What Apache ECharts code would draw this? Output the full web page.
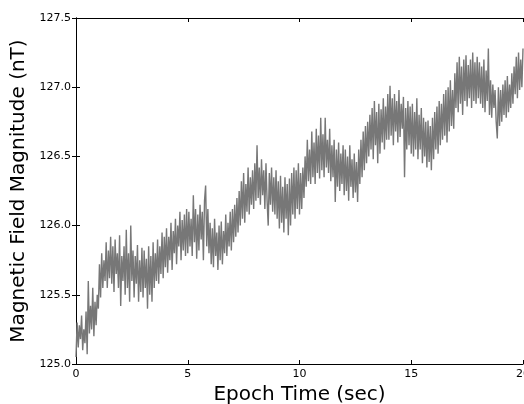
<!DOCTYPE html>
<html>
<head>
<meta charset="utf-8">
<script src="https://cdn.jsdelivr.net/npm/echarts@6/dist/echarts.min.js"></script>
<style>
html,body{margin:0;padding:0;background:#fff;}
#chart{width:524px;height:404px;}
</style>
</head>
<body>
<div id="chart"></div>
<script>
// Sampling interval of the magnetometer trace (seconds)
const timeStepSec = 0.05;
// Magnetic field magnitude (nT), one row per second
const field_0_1 = [125.05,125.30,125.12,125.28,125.18,125.35,125.10,125.25,125.15,125.38,125.07,125.60,125.22,125.42,125.25,125.55,125.20,125.45,125.28,125.50];
const field_1_2 = [125.40,125.72,125.48,125.80,125.55,125.75,125.60,125.88,125.55,125.82,125.62,125.92,125.58,125.85,125.52,125.90,125.65,125.80,125.55,125.93];
const field_2_3 = [125.42,125.78,125.60,125.85,125.50,125.97,125.55,125.80,125.45,126.00,125.60,125.82,125.48,125.78,125.58,125.86,125.45,125.75,125.52,125.84];
const field_3_4 = [125.48,125.82,125.55,125.76,125.40,125.85,125.50,125.78,125.45,125.88,125.55,125.80,125.60,125.90,125.58,125.85,125.65,125.95,125.62,125.92];
const field_4_5 = [125.70,125.98,125.66,125.92,125.75,126.02,125.68,125.96,125.80,126.05,125.72,126.00,125.85,126.10,125.75,126.04,125.82,126.08,125.78,126.12];
const field_5_6 = [125.80,126.10,125.85,126.05,125.78,126.22,125.88,126.12,125.76,126.08,125.82,126.15,125.90,126.10,125.75,126.18,126.29,125.85,126.12,125.80];
const field_6_7 = [126.02,125.72,125.98,125.70,126.05,125.78,125.95,125.68,126.00,125.75,126.03,125.72,125.96,125.80,126.08,125.78,126.02,125.85,126.10,125.82];
const field_7_8 = [126.12,125.88,126.15,125.92,126.20,125.95,126.25,126.00,126.32,126.05,126.38,126.02,126.30,126.10,126.42,126.08,126.35,126.15,126.40,126.12];
const field_8_9 = [126.45,126.18,126.58,126.20,126.42,126.15,126.48,126.22,126.40,126.12,126.45,126.18,126.00,126.38,126.15,126.42,126.10,126.35,126.08,126.40];
const field_9_10 = [126.05,126.32,125.98,126.36,126.02,126.28,125.95,126.35,126.05,126.30,125.93,126.34,126.00,126.38,126.08,126.42,126.05,126.40,126.12,126.45];
const field_10_11 = [126.08,126.38,126.12,126.42,126.20,126.50,126.28,126.62,126.32,126.55,126.30,126.68,126.35,126.60,126.30,126.70,126.38,126.65,126.34,126.78];
const field_11_12 = [126.40,126.66,126.35,126.78,126.42,126.62,126.38,126.70,126.32,126.58,126.35,126.62,126.17,126.55,126.28,126.60,126.25,126.52,126.30,126.58];
const field_12_13 = [126.22,126.55,126.25,126.50,126.18,126.58,126.28,126.48,126.20,126.52,126.24,126.46,126.17,126.55,126.30,126.62,126.35,126.68,126.40,126.72];
const field_13_14 = [126.45,126.75,126.50,126.80,126.55,126.85,126.48,126.90,126.58,126.82,126.45,126.88,126.52,126.84,126.60,126.92,126.55,126.86,126.62,126.95];
const field_14_15 = [126.62,127.01,126.65,126.92,126.58,126.95,126.68,126.90,126.60,126.98,126.64,126.88,126.70,126.93,126.35,126.85,126.55,126.90,126.58,126.86];
const field_15_16 = [126.52,126.88,126.50,126.82,126.55,126.92,126.48,126.80,126.55,126.85,126.45,126.78,126.50,126.75,126.42,126.76,126.46,126.72,126.40,126.78];
const field_16_17 = [126.48,126.82,126.55,126.86,126.52,126.90,126.58,126.88,126.62,126.95,126.65,126.98,126.60,127.00,126.68,127.05,126.72,126.98,126.70,127.10];
const field_17_18 = [126.85,127.18,126.82,127.22,126.88,127.15,126.80,127.20,126.90,127.23,126.86,127.16,126.92,127.20,126.85,127.25,126.90,127.18,126.88,127.22];
const field_18_19 = [126.92,127.18,126.88,127.15,126.85,127.20,126.82,127.12,126.90,127.28,126.80,127.05,126.78,127.02,126.85,126.98,126.75,126.63,127.00,126.72];
const field_19_20 = [126.98,126.75,127.02,126.80,127.05,126.78,127.08,126.82,127.02,126.85,127.10,126.88,127.15,126.95,127.22,126.92,127.25,126.98,127.20,127.00,127.28];

const xTicks = [0, 5, 10, 15, 20];
const yTicks = [125.0, 125.5, 126.0, 126.5, 127.0, 127.5];

const fieldValues = [].concat(field_0_1, field_1_2, field_2_3, field_3_4, field_4_5,
  field_5_6, field_6_7, field_7_8, field_8_9, field_9_10, field_10_11, field_11_12,
  field_12_13, field_13_14, field_14_15, field_15_16, field_16_17, field_17_18,
  field_18_19, field_19_20);
const seriesData = fieldValues.map((v, i) => [+(i * timeStepSec).toFixed(2), v]);

const FONT = 'DejaVu Sans';
const chart = echarts.init(document.getElementById('chart'), null, {renderer: 'canvas'});
const tickStyle = {show: true, inside: true, length: 4, lineStyle: {color: '#000', width: 1}};
const lineStyle = {show: true, lineStyle: {color: '#000', width: 1}};
chart.setOption({
  animation: false,
  backgroundColor: '#fff',
  grid: {left: 76, right: 1, top: 18, bottom: 40, containLabel: false, outerBoundsMode: 'none'},
  xAxis: [{
    type: 'value', min: xTicks[0], max: xTicks[xTicks.length - 1], interval: 5,
    position: 'bottom',
    axisLine: lineStyle, axisTick: tickStyle, splitLine: {show: false},
    axisLabel: {color: '#000', fontFamily: FONT, fontSize: 11, margin: 5, showMaxLabel: true},
    name: 'Epoch Time (sec)', nameLocation: 'middle', nameGap: 17,
    nameTextStyle: {color: '#000', fontFamily: FONT, fontSize: 20}
  }, {
    type: 'value', min: xTicks[0], max: xTicks[xTicks.length - 1], interval: 5,
    position: 'top',
    axisLine: lineStyle, axisTick: tickStyle, splitLine: {show: false},
    axisLabel: {show: false}
  }],
  yAxis: [{
    type: 'value', min: yTicks[0], max: yTicks[yTicks.length - 1], interval: 0.5,
    position: 'left',
    axisLine: lineStyle, axisTick: tickStyle, splitLine: {show: false},
    axisLabel: {color: '#000', fontFamily: FONT, fontSize: 11, margin: 5,
      formatter: v => v.toFixed(1)},
    name: 'Magnetic Field Magnitude (nT)', nameLocation: 'middle', nameGap: 40,
    nameRotate: 90,
    nameTextStyle: {color: '#000', fontFamily: FONT, fontSize: 20}
  }, {
    type: 'value', min: yTicks[0], max: yTicks[yTicks.length - 1], interval: 0.5,
    position: 'right',
    axisLine: lineStyle, axisTick: tickStyle, splitLine: {show: false},
    axisLabel: {show: false}
  }],
  series: [{
    type: 'line',
    data: seriesData,
    xAxisIndex: 0, yAxisIndex: 0,
    showSymbol: false,
    sampling: null,
    lineStyle: {color: '#777777', width: 1.4},
    z: 1
  }]
});
</script>
</body>
</html>
